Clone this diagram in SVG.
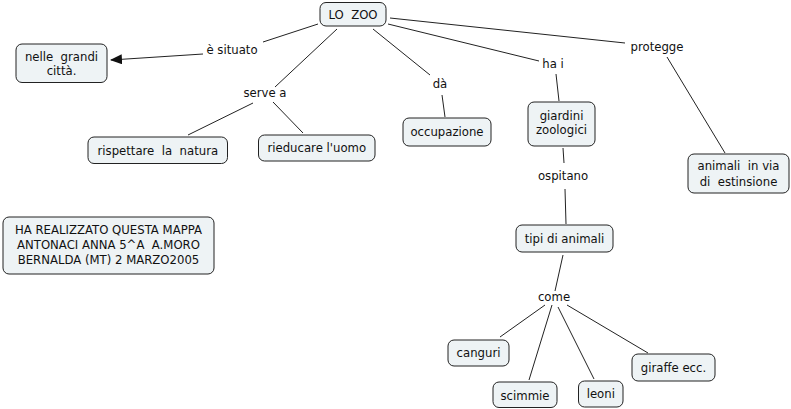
<svg xmlns="http://www.w3.org/2000/svg" width="791" height="409" viewBox="0 0 791 409" xml:space="preserve">
<style>
.n rect{fill:#eef3f5;stroke:#222;stroke-width:1}
text{font-family:"DejaVu Sans",Verdana,sans-serif;font-size:11.7px;fill:#111;text-anchor:middle;white-space:pre}
.c line{stroke:#222;stroke-width:1}
</style>
<defs>
<marker id="ah" viewBox="0 0 12 10" refX="11" refY="5" markerWidth="12" markerHeight="10" markerUnits="userSpaceOnUse" orient="auto">
<path d="M0,0 L12,5 L0,10 Z" fill="#111"/>
</marker>
</defs>
<rect width="791" height="409" fill="#fff"/>
<g class="c">
<line x1="318" y1="24" x2="263" y2="42"/>
<line x1="203" y1="54" x2="111" y2="60" marker-end="url(#ah)"/>
<line x1="337" y1="29" x2="275" y2="87"/>
<line x1="253" y1="103" x2="188" y2="135"/>
<line x1="273" y1="102" x2="303" y2="133"/>
<line x1="373" y1="29" x2="430" y2="75"/>
<line x1="442" y1="95" x2="445" y2="117"/>
<line x1="388" y1="24" x2="539" y2="61"/>
<line x1="556" y1="74" x2="559" y2="101"/>
<line x1="390" y1="18" x2="625" y2="43"/>
<line x1="667" y1="57" x2="725" y2="153"/>
<line x1="563" y1="148" x2="564" y2="163"/>
<line x1="565" y1="189" x2="566" y2="224"/>
<line x1="563" y1="255" x2="555" y2="291"/>
<line x1="545" y1="305" x2="500" y2="337"/>
<line x1="552" y1="305" x2="529" y2="380"/>
<line x1="558" y1="307" x2="594" y2="379"/>
<line x1="567" y1="305" x2="648" y2="353"/>
</g>
<g id="labels">
<text x="232" y="54">è situato</text>
<text x="265" y="97">serve a</text>
<text x="440" y="88">dà</text>
<text x="553" y="68">ha i</text>
<text x="657" y="51">protegge</text>
<text x="563" y="180">ospitano</text>
<text x="554" y="301">come</text>
</g>
<g id="lozoo" class="n"><rect x="320" y="2.5" width="66" height="23.5" rx="6"/><text x="353" y="18.5">LO  ZOO</text></g>
<g id="citta" class="n"><rect x="16" y="44" width="91" height="38.5" rx="6"/><text x="61.5" y="60.5">nelle  grandi</text><text x="61.5" y="74.5">città.</text></g>
<g id="natura" class="n"><rect x="88" y="137" width="139.5" height="26.5" rx="6"/><text x="157.8" y="154.5">rispettare  la  natura</text></g>
<g id="uomo" class="n"><rect x="258.5" y="135" width="116.5" height="26" rx="6"/><text x="316.8" y="152">rieducare l'uomo</text></g>
<g id="occupazione" class="n"><rect x="403" y="118" width="88" height="28" rx="6"/><text x="447" y="136">occupazione</text></g>
<g id="giardini" class="n"><rect x="528" y="102" width="67" height="44" rx="6"/><text x="561.5" y="120">giardini</text><text x="561.5" y="134">zoologici</text></g>
<g id="estinsione" class="n"><rect x="688" y="154" width="101" height="39" rx="6"/><text x="738.5" y="170">animali  in via</text><text x="738.5" y="186">di  estinsione</text></g>
<g id="autore" class="n"><rect x="3" y="217" width="211" height="57" rx="6"/><text x="108.5" y="234">HA REALIZZATO QUESTA MAPPA</text><text x="108.5" y="249">ANTONACI ANNA 5^A  A.MORO</text><text x="108.5" y="264">BERNALDA (MT) 2 MARZO2005</text></g>
<g id="tipi" class="n"><rect x="516" y="225" width="97" height="27" rx="6"/><text x="564.5" y="242.5">tipi di animali</text></g>
<g id="canguri" class="n"><rect x="448" y="340" width="61" height="26" rx="6"/><text x="478.5" y="357">canguri</text></g>
<g id="scimmie" class="n"><rect x="493" y="382" width="64" height="25.5" rx="6"/><text x="525" y="400">scimmie</text></g>
<g id="leoni" class="n"><rect x="578.5" y="381" width="44.5" height="26" rx="6"/><text x="600.8" y="398">leoni</text></g>
<g id="giraffe" class="n"><rect x="632" y="354" width="83" height="27" rx="6"/><text x="673.5" y="372">giraffe ecc.</text></g>
</svg>
